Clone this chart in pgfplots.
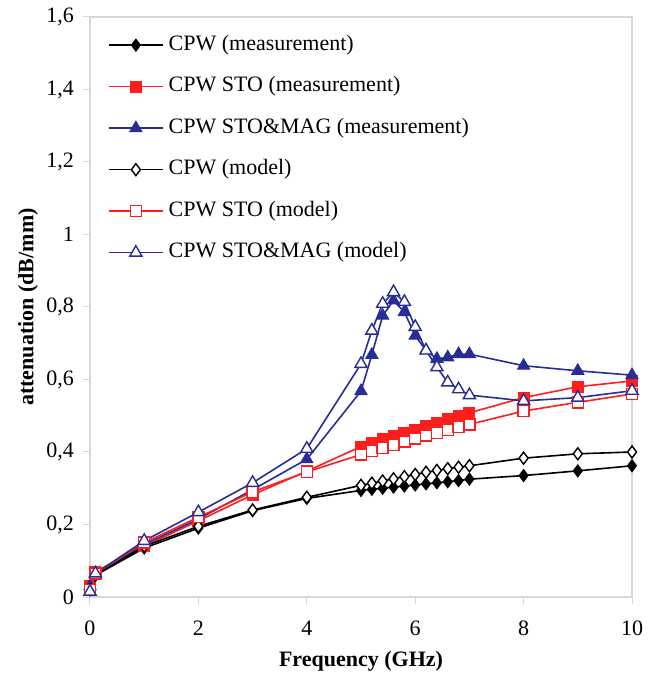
\documentclass[border=0pt]{standalone}
\usepackage{pgfplots}
\pgfplotsset{compat=1.18}
\usepackage{pgfplotstable}
\usepackage{fontspec}
\setmainfont{Liberation Serif}
\usetikzlibrary{calc}
\definecolor{cred}{RGB}{255,30,30}
\definecolor{cblue}{RGB}{40,45,150}
\definecolor{framegray}{RGB}{215,215,215}

% f: frequency (GHz); bm/bmod: CPW, rm/rmod: CPW STO, um/umod: CPW STO&MAG
\pgfplotstableread{
f    bm    bmod  rm    rmod  um    umod
0    0.030 0.020 0.030 0.020 0.030 0.015
0.1  0.060 0.060 0.070 0.065 0.065 0.065
1    0.135 0.140 0.140 0.150 0.145 0.155
2    0.190 0.195 0.210 0.220 0.215 0.234
3    0.238 0.240 0.282 0.290 0.296 0.315
4    0.272 0.275 0.347 0.345 0.380 0.409
5    0.294 0.308 0.415 0.393 0.568 0.643
5.2  0.297 0.314 0.425 0.402 0.668 0.735
5.4  0.300 0.320 0.435 0.411 0.776 0.809
5.6  0.303 0.326 0.444 0.420 0.818 0.841
5.8  0.306 0.332 0.453 0.429 0.786 0.814
6    0.309 0.338 0.462 0.437 0.721 0.745
6.2  0.312 0.344 0.471 0.445 0.680 0.680
6.4  0.315 0.349 0.480 0.453 0.657 0.634
6.6  0.318 0.354 0.490 0.461 0.661 0.592
6.8  0.321 0.358 0.500 0.469 0.670 0.573
7    0.325 0.362 0.508 0.476 0.670 0.557
8    0.335 0.383 0.550 0.513 0.638 0.541
9    0.348 0.395 0.580 0.537 0.624 0.550
10   0.362 0.400 0.596 0.560 0.612 0.569
}\data

\begin{document}
\begin{tikzpicture}
\begin{axis}[
  name=ax, at={(0,0)}, anchor=south west,
  scale only axis, width=542bp, height=580bp,
  xmin=0, xmax=10, ymin=0, ymax=1.6,
  xtick={0,2,4,6,8,10},
  ytick={0,0.2,0.4,0.6,0.8,1,1.2,1.4,1.6},
  axis line style={framegray, line width=1.2bp},
  tick style={framegray, line width=1bp},
  tick align=outside, major tick length=7bp,
  xtick pos=bottom, ytick pos=left,
  /pgf/number format/use comma,
  /pgf/number format/assume math mode=true,
  font=\fontsize{22bp}{26bp}\selectfont,
  xticklabel style={anchor=north, inner sep=0pt},
  yticklabel style={anchor=east, inner sep=0pt},
  xticklabel shift=17bp, yticklabel shift=9bp,
  xlabel={\textbf{Frequency (GHz)}},
  ylabel={\textbf{attenuation (dB/mm)}},
  xlabel style={at={(0.5,0)}, anchor=center, yshift=-64bp},
  ylabel style={at={(0,0.5)}, anchor=center, yshift=62bp},
  every axis plot/.append style={line width=1.6bp},
  legend cell align=left,
  legend style={draw=none, fill=none, at={(0.033,0.969)}, anchor=north west,
    inner sep=0pt, nodes={inner sep=0pt, text height=15bp, text depth=5bp},
    row sep=21.5bp, column sep=5bp},
  legend image code/.code={\draw[mark repeat=2,mark phase=2]
    plot coordinates {(0bp,0bp) (27bp,0bp) (54bp,0bp)};},
]
\addplot[black, mark=diamond*, mark size=6bp, mark options={line width=1bp}] table[x=f, y=bm] {\data};
\addlegendentry{CPW (measurement)}
\addplot[cred, mark=square*, mark size=5.5bp, mark options={line width=1bp}] table[x=f, y=rm] {\data};
\addlegendentry{CPW STO (measurement)}
\addplot[cblue, mark=triangle*, mark size=7bp, mark options={line width=1bp}] table[x=f, y=um] {\data};
\addlegendentry{CPW STO\&MAG (measurement)}
\addplot[black, mark=diamond*, mark size=6bp, mark options={fill=white, line width=1.4bp}] table[x=f, y=bmod] {\data};
\addlegendentry{CPW (model)}
\addplot[cred, mark=square*, mark size=5.5bp, mark options={fill=white, line width=1.4bp}] table[x=f, y=rmod] {\data};
\addlegendentry{CPW STO (model)}
\addplot[cblue, mark=triangle*, mark size=7bp, mark options={fill=white, line width=1.4bp}] table[x=f, y=umod] {\data};
\addlegendentry{CPW STO\&MAG (model)}
\end{axis}
\pgfresetboundingbox
\path ($(ax.south west)+(-90bp,-77bp)$) rectangle ($(ax.north east)+(21bp,17bp)$);
\end{tikzpicture}
\end{document}
